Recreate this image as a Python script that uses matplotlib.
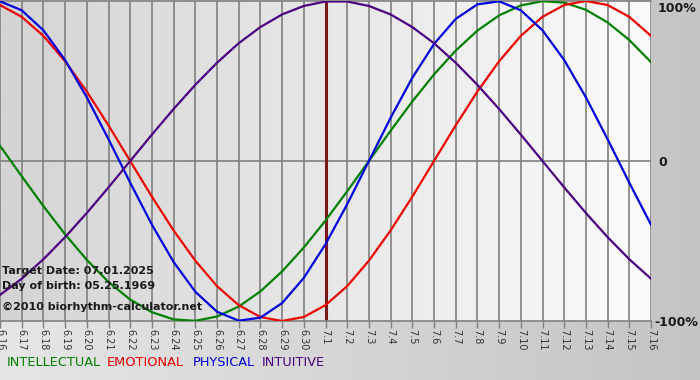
import numpy as np
import matplotlib
matplotlib.use("Agg")
import matplotlib.pyplot as plt

# day labels from 6.16 to 7.16
dates = ["6.16", "6.17", "6.18", "6.19", "6.20", "6.21", "6.22", "6.23", "6.24",
         "6.25", "6.26", "6.27", "6.28", "6.29", "6.30", "7.1", "7.2", "7.3",
         "7.4", "7.5", "7.6", "7.7", "7.8", "7.9", "7.10", "7.11", "7.12",
         "7.13", "7.14", "7.15", "7.16"]
target_day = "7.1"

intellectual = [0.095, -0.095, -0.282, -0.458, -0.618, -0.756, -0.866, -0.945,
                -0.990, -0.999, -0.972, -0.910, -0.815, -0.690, -0.541, -0.372,
                -0.189, 0.0, 0.189, 0.372, 0.541, 0.690, 0.815, 0.910, 0.972,
                0.999, 0.990, 0.945, 0.866, 0.756, 0.618]
emotional = [0.975, 0.901, 0.782, 0.623, 0.434, 0.223, 0.0, -0.223, -0.434,
             -0.623, -0.782, -0.901, -0.975, -1.0, -0.975, -0.901, -0.782,
             -0.623, -0.434, -0.223, 0.0, 0.223, 0.434, 0.623, 0.782, 0.901,
             0.975, 1.0, 0.975, 0.901, 0.782]
physical = [0.998, 0.942, 0.817, 0.631, 0.398, 0.136, -0.136, -0.398, -0.631,
            -0.817, -0.942, -0.998, -0.979, -0.888, -0.731, -0.520, -0.270,
            0.0, 0.270, 0.520, 0.731, 0.888, 0.979, 0.998, 0.942, 0.817,
            0.631, 0.398, 0.136, -0.136, -0.398]
intuitive = [-0.837, -0.736, -0.614, -0.476, -0.325, -0.165, 0.0, 0.165, 0.325,
             0.476, 0.614, 0.736, 0.837, 0.916, 0.969, 0.997, 0.997, 0.969,
             0.916, 0.837, 0.736, 0.614, 0.476, 0.325, 0.165, 0.0, -0.165,
             -0.325, -0.476, -0.614, -0.736]

series = [("INTELLECTUAL", intellectual, "#008000"),
          ("EMOTIONAL", emotional, "#ee0000"),
          ("PHYSICAL", physical, "#0000dd"),
          ("INTUITIVE", intuitive, "#4b0082")]

fig = plt.figure(figsize=(7, 3.8), dpi=100)

# outer grey background gradient
bg = fig.add_axes([0, 0, 1, 1], zorder=-10)
grad = np.linspace(0, 1, 256).reshape(1, -1)
bg.imshow(grad, aspect="auto", cmap=matplotlib.colors.LinearSegmentedColormap.from_list(
    "outer", ["#e6e6e6", "#c4c4c4"]), extent=[0, 1, 0, 1])
bg.axis("off")

ax = fig.add_axes([0.0, (380 - 321) / 380, 651 / 700, 320 / 380], zorder=0)
x = np.arange(len(dates))
ax.set_xlim(0, len(dates) - 1)
ax.set_ylim(-1, 1)

# inner gradient
ax.imshow(grad, aspect="auto", extent=[0, len(dates) - 1, -1, 1], zorder=0,
          cmap=matplotlib.colors.LinearSegmentedColormap.from_list(
              "inner", ["#d4d4d4", "#fbfbfb"]))

for xi in x:
    ax.axvline(xi, color="#808080", lw=1.2, zorder=1)
ax.axhline(0, color="#808080", lw=1.2, zorder=1)

ti = dates.index(target_day)
ax.axvline(ti, color="#7a1818", lw=2.2, zorder=2)

for name, vals, col in series:
    ax.plot(x, vals, color=col, lw=1.6, zorder=3, solid_joinstyle="round")

ax.set_xticks(x)
ax.set_xticklabels(dates, rotation=270, fontsize=7, color="#333333")
ax.tick_params(axis="x", length=5, width=1, color="#808080", pad=1)
ax.set_yticks([])
for side in ["left", "right"]:
    ax.spines[side].set_visible(False)
for side in ["top", "bottom"]:
    ax.spines[side].set_color("#808080")
    ax.spines[side].set_linewidth(1.2)

# percentage labels on the right
fig.text(658 / 700, 1 - 8 / 380, "100%", fontsize=9, fontweight="bold",
         color="#1a1a1a", va="center", ha="left")
fig.text(658 / 700, 1 - 162 / 380, "0", fontsize=9, fontweight="bold",
         color="#1a1a1a", va="center", ha="left")
fig.text(654 / 700, 1 - 322 / 380, "-100%", fontsize=9, fontweight="bold",
         color="#1a1a1a", va="center", ha="left")

# info text
fig.text(2 / 700, 1 - 271 / 380, "Target Date: 07.01.2025", fontsize=8,
         fontweight="bold", color="#1a1a1a", va="center")
fig.text(2 / 700, 1 - 286 / 380, "Day of birth: 05.25.1969", fontsize=8,
         fontweight="bold", color="#1a1a1a", va="center")
fig.text(2 / 700, 1 - 307 / 380, "\u00a92010 biorhythm-calculator.net", fontsize=8,
         fontweight="bold", color="#1a1a1a", va="center")

# legend text
xpos = [7, 107, 193, 262]
for (name, vals, col), xp in zip(series, xpos):
    fig.text(xp / 700, 1 - 362 / 380, name, fontsize=9.3, color=col,
             va="center", fontweight="medium")

fig.savefig("out.png", dpi=100)
